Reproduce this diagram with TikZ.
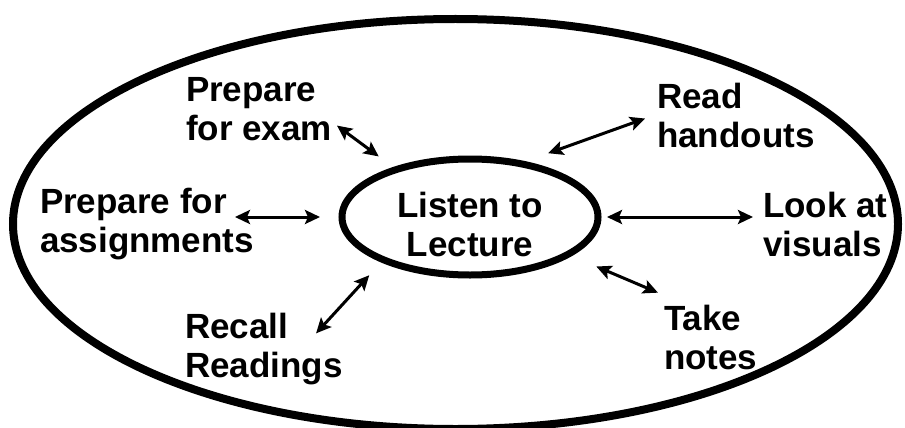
\documentclass[tikz,border=0pt]{standalone}
\usepackage{fontspec}
\setmainfont{Liberation Sans}
\usetikzlibrary{shapes.geometric, arrows.meta}

\begin{document}
\begin{tikzpicture}[x=1bp, y=1bp,
        outer/.style   ={ellipse, draw, line width=8bp, inner sep=0pt,
                         minimum width=885bp, minimum height=410bp},
        hub/.style     ={ellipse, draw, line width=7bp, inner sep=0pt,
                         minimum width=256bp, minimum height=116bp},
        activity/.style={anchor=north west, align=left, inner sep=0pt, outer sep=0pt,
                         font=\fontsize{35bp}{39.5bp}\selectfont\bfseries},
        arr/.style     ={<->, >={Stealth[length=15bp, width=14bp, inset=3bp]},
                         line width=3bp}
    ]
    \useasboundingbox (0,0) rectangle (905,427);

    % --- Outer ellipse and central activity ---
    \node[outer] (study) at (455.5,203) {};
    \node[hub, label={[activity, anchor=center, align=center, yshift=-7.4bp]center:Listen to\\Lecture}]
        (lecture) at (470,210) {};

    % --- Surrounding activities ---
    \node[activity] (exam)     at (186,350) {Prepare\\for exam};
    \node[activity] (assign)   at (40,239)  {Prepare for\\assignments};
    \node[activity] (recall)   at (185,114) {Recall\\Readings};
    \node[activity] (handouts) at (657,344) {Read\\handouts};
    \node[activity] (visuals)  at (763,235) {Look at\\visuals};
    \node[activity] (notes)    at (664,122) {Take\\notes};

    % --- Two-way links (left side) ---
    \draw[arr, shorten <=6.3bp, shorten >=17.9bp]  (exam.-10.7) -- (lecture.147.9);
    \draw[arr, shorten <=-19bp, shorten >=18.5bp]  (assign.east |- lecture.west) -- (lecture.west);
    \draw[arr, shorten <=17.5bp, shorten >=-27.6bp] (lecture.-153) -- (recall.27.5);

    % --- Two-way links (right side) ---
    \draw[arr, shorten <=23.9bp, shorten >=12.7bp] (lecture.45.8) -- (handouts.179);
    \draw[arr, shorten <=5.5bp, shorten >=10bp]    (lecture.east) -- (visuals.west |- lecture.east);
    \draw[arr, shorten <=26.8bp, shorten >=31.5bp] (lecture.-21.7) -- (notes.126.1);

\end{tikzpicture}
\end{document}
